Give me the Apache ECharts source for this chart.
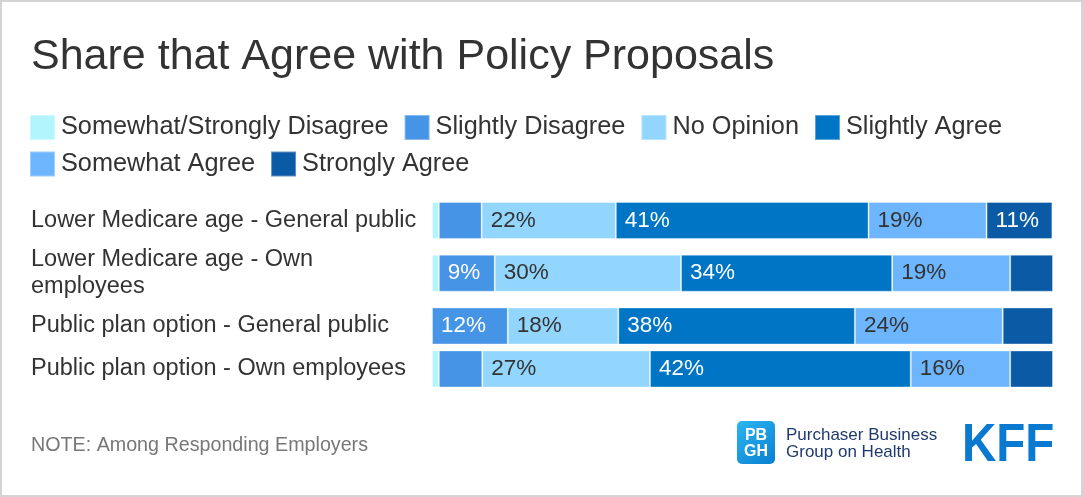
<!DOCTYPE html>
<html>
<head>
<meta charset="utf-8">
<script src="https://cdn.jsdelivr.net/npm/echarts@6/dist/echarts.min.js"></script>
<style>
html,body{margin:0;padding:0;background:#fff;}
#chart{width:1083px;height:497px;}
</style>
</head>
<body>
<div id="chart"></div>
<script>
const categories = [
  'Lower Medicare age - General public',
  'Lower Medicare age - Own employees',
  'Public plan option - General public',
  'Public plan option - Own employees'
];
const seriesNames = ['Somewhat/Strongly Disagree','Slightly Disagree','No Opinion','Slightly Agree','Somewhat Agree','Strongly Agree'];
const disagreeStrong   = [1.1, 1.1, 0, 1.1];
const slightlyDisagree = [6.9, 9.0, 12.2, 7.0];
const noOpinion        = [21.6, 30.0, 17.8, 27.0];
const slightlyAgree    = [40.7, 34.0, 38.1, 42.0];
const somewhatAgree    = [19.0, 19.0, 23.8, 16.0];
const stronglyAgree    = [10.6, 6.9, 8.1, 6.9];

const seriesValues = [disagreeStrong, slightlyDisagree, noOpinion, slightlyAgree, somewhatAgree, stronglyAgree];
const colors = ['#b3f5fd', '#4594e6', '#92d5fd', '#0075c5', '#6db5fd', '#0a5aa6'];
const labelColors = ['#333', '#fff', '#333', '#fff', '#333', '#fff'];
const FONT = '"Liberation Sans", Arial, sans-serif';

// two grids: rows 1-3, and row 4
const groups = [[0, 3], [3, 4]];
const grids = [
  {left: 432, right: 30, top: 194.1, height: 158.25},
  {left: 432, right: 30, top: 342.6, height: 52.75}
];
const xAxes = [], yAxes = [], series = [];
groups.forEach((g, gi) => {
  xAxes.push({type: 'value', gridIndex: gi, min: 0, max: 100, show: false});
  yAxes.push({
    type: 'category', gridIndex: gi, inverse: true,
    data: categories.slice(g[0], g[1]),
    axisLine: {show: false}, axisTick: {show: false}, splitLine: {show: false},
    axisLabel: {
      align: 'left', margin: 401, color: '#333', fontSize: 23.5, fontFamily: FONT,
      width: 392, overflow: 'break', lineHeight: 27
    }
  });
  seriesValues.forEach((vals, si) => {
    series.push({
      type: 'bar', name: seriesNames[si], stack: 'total' + gi,
      xAxisIndex: gi, yAxisIndex: gi, barWidth: 37,
      itemStyle: {color: colors[si], borderColor: 'rgba(255,255,255,0.35)', borderWidth: 1},
      label: {
        show: true, position: 'insideLeft', distance: 9,
        color: labelColors[si], fontSize: 22.5, fontFamily: FONT,
        formatter: p => p.value >= 8.5 ? Math.round(p.value) + '%' : ''
      },
      emphasis: {disabled: true},
      data: vals.slice(g[0], g[1])
    });
  });
});

const legendCommon = {
  left: 24, itemWidth: 25, itemHeight: 25, itemGap: 15, icon: 'rect',
  textStyle: {color: '#333', fontSize: 25.3, fontFamily: FONT, padding: [0, 0, 0, 1]},
  selectedMode: false
};

const chart = echarts.init(document.getElementById('chart'), null, {renderer: 'canvas'});
chart.setOption({
  animation: false,
  backgroundColor: '#fff',
  title: {
    text: 'Share that Agree with Policy Proposals', left: 26, top: 31,
    textStyle: {color: '#333', fontSize: 43, fontWeight: 'normal', fontFamily: FONT}
  },
  legend: [
    Object.assign({top: 109, data: seriesNames.slice(0, 4)}, legendCommon),
    Object.assign({top: 145.5, data: seriesNames.slice(4)}, legendCommon)
  ],
  grid: grids,
  xAxis: xAxes,
  yAxis: yAxes,
  series: series,
  graphic: [
    {type: 'rect', shape: {x: 1, y: 1, width: 1081, height: 495}, style: {fill: 'none', stroke: '#d4d4d4', lineWidth: 2}, silent: true},
    {type: 'text', left: 31, top: 436, style: {text: 'NOTE: Among Responding Employers', fill: '#777', font: '19.7px ' + FONT}},
    {type: 'rect', shape: {x: 737, y: 421, width: 38, height: 43, r: 5},
      style: {fill: new echarts.graphic.LinearGradient(0, 0, 1, 1, [{offset: 0, color: '#2ab6f2'}, {offset: 1, color: '#0a7fd0'}])}},
    {type: 'text', x: 756, y: 435.5, style: {text: 'PB', fill: '#fff', font: 'bold 16px ' + FONT, align: 'center', verticalAlign: 'middle'}},
    {type: 'text', x: 756, y: 451.5, style: {text: 'GH', fill: '#fff', font: 'bold 16px ' + FONT, align: 'center', verticalAlign: 'middle'}},
    {type: 'text', x: 786, y: 435.5, style: {text: 'Purchaser Business', fill: '#1f3a6e', font: '17px ' + FONT, verticalAlign: 'middle'}},
    {type: 'text', x: 786, y: 452, style: {text: 'Group on Health', fill: '#1f3a6e', font: '17px ' + FONT, verticalAlign: 'middle'}},
    {type: 'text', x: 962, y: 446, scaleX: 0.88, style: {text: 'KFF', fill: '#0a79d0', font: 'bold 54px ' + FONT, verticalAlign: 'middle'}}
  ]
});
</script>
</body>
</html>
